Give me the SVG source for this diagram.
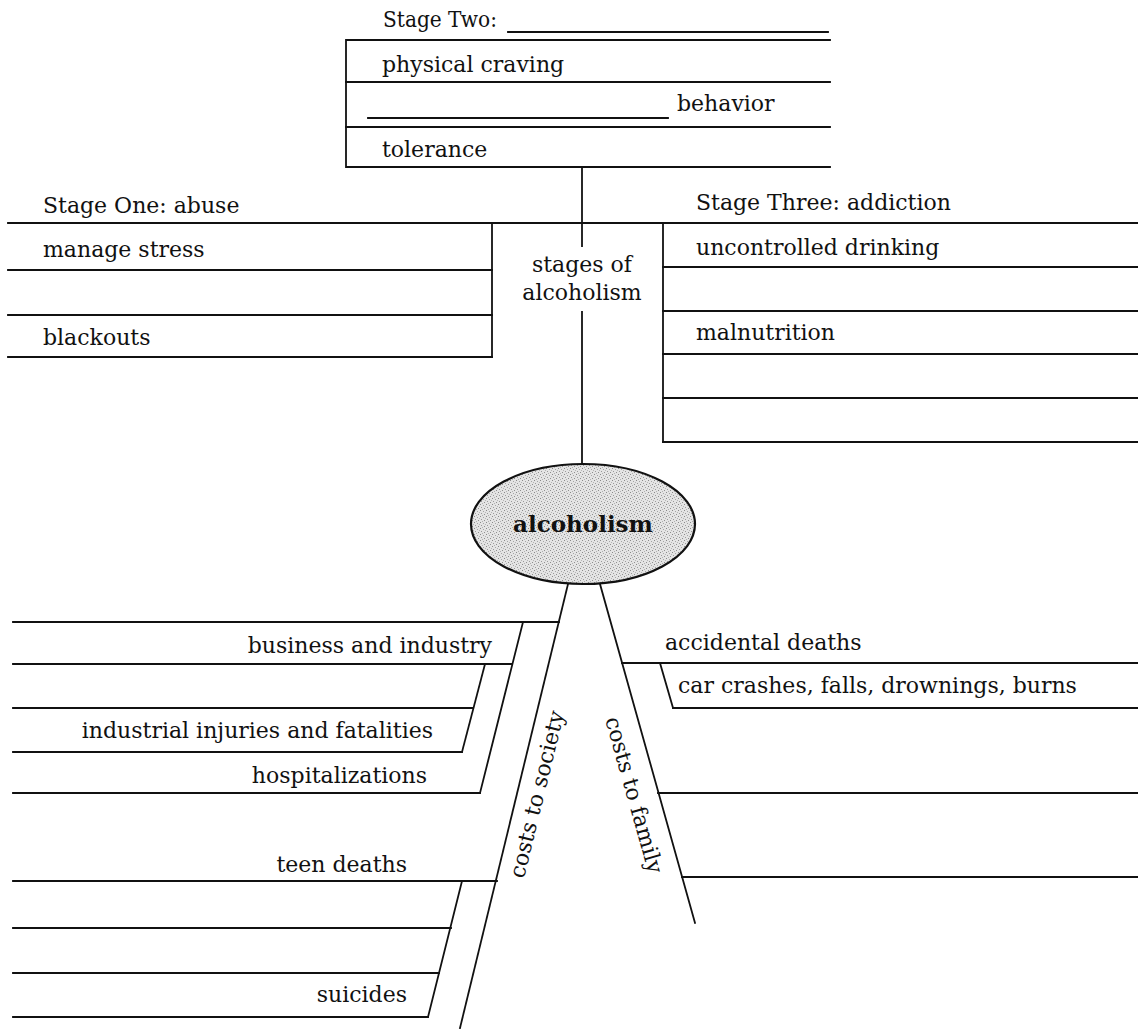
<svg xmlns="http://www.w3.org/2000/svg" width="1138" height="1029" viewBox="0 0 1138 1029">
<style>
  .ln{stroke:#111;stroke-width:1.8;fill:none;stroke-linecap:square}
  text{font-family:"DejaVu Serif","Liberation Serif",serif;font-size:22px;fill:#111}
  .r{text-anchor:end}
  .c{text-anchor:middle}
  .b{font-weight:bold;font-size:23px}
</style>
<defs>
  <pattern id="stip" width="6" height="6" patternUnits="userSpaceOnUse">
    <rect width="6" height="6" fill="#e4e4e4"/>
    <rect x="0" y="0" width="1" height="1" fill="#8a8a8a"/>
    <rect x="3" y="1" width="1" height="1" fill="#a5a5a5"/>
    <rect x="1" y="3" width="1" height="1" fill="#9a9a9a"/>
    <rect x="4" y="4" width="1" height="1" fill="#8f8f8f"/>
    <rect x="5" y="2" width="1" height="1" fill="#b5b5b5"/>
    <rect x="2" y="5" width="1" height="1" fill="#b0b0b0"/>
  </pattern>
</defs>
<rect width="1138" height="1029" fill="#fff"/>

<g id="connectors">
  <line class="ln" x1="582" y1="167" x2="582" y2="246"/>
  <line class="ln" x1="582" y1="312" x2="582" y2="464"/>
  <line class="ln" x1="8" y1="223" x2="1138" y2="223"/>
  <line class="ln" x1="568" y1="584" x2="460" y2="1028"/>
  <line class="ln" x1="600" y1="584" x2="695" y2="923"/>
</g>

<g id="stage-two">
  <text x="383" y="27" textLength="114" lengthAdjust="spacingAndGlyphs">Stage Two:</text>
  <line class="ln" x1="508" y1="32" x2="828" y2="32"/>
  <polyline class="ln" points="830,40 346,40 346,167 830,167"/>
  <line class="ln" x1="346" y1="82" x2="830" y2="82"/>
  <line class="ln" x1="346" y1="127" x2="830" y2="127"/>
  <text x="382" y="72">physical craving</text>
  <line class="ln" x1="368" y1="118" x2="668" y2="118"/>
  <text x="677" y="111">behavior</text>
  <text x="382" y="157">tolerance</text>
</g>

<g id="stages-label">
  <text class="c" x="582" y="272">stages of</text>
  <text class="c" x="582" y="300">alcoholism</text>
</g>

<g id="stage-one">
  <text x="43" y="213">Stage One: abuse</text>
  <line class="ln" x1="492" y1="223" x2="492" y2="357"/>
  <line class="ln" x1="8" y1="270" x2="492" y2="270"/>
  <line class="ln" x1="8" y1="315" x2="492" y2="315"/>
  <line class="ln" x1="8" y1="357" x2="492" y2="357"/>
  <text x="43" y="257">manage stress</text>
  <text x="43" y="345">blackouts</text>
</g>

<g id="stage-three">
  <text x="696" y="210">Stage Three: addiction</text>
  <line class="ln" x1="663" y1="223" x2="663" y2="442"/>
  <line class="ln" x1="663" y1="267" x2="1138" y2="267"/>
  <line class="ln" x1="663" y1="311" x2="1138" y2="311"/>
  <line class="ln" x1="663" y1="354" x2="1138" y2="354"/>
  <line class="ln" x1="663" y1="398" x2="1138" y2="398"/>
  <line class="ln" x1="663" y1="442" x2="1138" y2="442"/>
  <text x="696" y="255">uncontrolled drinking</text>
  <text x="696" y="340">malnutrition</text>
</g>

<g id="alcoholism">
  <ellipse cx="583" cy="524" rx="112" ry="60" fill="url(#stip)" stroke="#111" stroke-width="2.2"/>
  <text class="c b" x="583" y="532">alcoholism</text>
</g>

<g id="costs-to-society">
  <text class="c" transform="translate(544,796) rotate(-76.3)">costs to society</text>
  <line class="ln" x1="13" y1="622" x2="559" y2="622"/>
  <line class="ln" x1="523" y1="622" x2="480" y2="793"/>
  <line class="ln" x1="13" y1="664" x2="512" y2="664"/>
  <line class="ln" x1="485" y1="664" x2="462" y2="752"/>
  <line class="ln" x1="13" y1="708" x2="473" y2="708"/>
  <line class="ln" x1="13" y1="752" x2="462" y2="752"/>
  <line class="ln" x1="13" y1="793" x2="480" y2="793"/>
  <text class="r" x="492" y="653">business and industry</text>
  <text class="r" x="433" y="738">industrial injuries and fatalities</text>
  <text class="r" x="427" y="783">hospitalizations</text>
  <line class="ln" x1="13" y1="881" x2="497" y2="881"/>
  <line class="ln" x1="462" y1="881" x2="428" y2="1017"/>
  <line class="ln" x1="13" y1="928" x2="451" y2="928"/>
  <line class="ln" x1="13" y1="973" x2="439" y2="973"/>
  <line class="ln" x1="13" y1="1017" x2="428" y2="1017"/>
  <text class="r" x="407" y="872">teen deaths</text>
  <text class="r" x="407" y="1002">suicides</text>
</g>

<g id="costs-to-family">
  <text class="c" transform="translate(627,797) rotate(74.3)">costs to family</text>
  <line class="ln" x1="622" y1="663" x2="1138" y2="663"/>
  <line class="ln" x1="660" y1="663" x2="673" y2="708"/>
  <line class="ln" x1="673" y1="708" x2="1138" y2="708"/>
  <line class="ln" x1="658" y1="793" x2="1138" y2="793"/>
  <line class="ln" x1="682" y1="877" x2="1138" y2="877"/>
  <text x="665" y="650">accidental deaths</text>
  <text x="678" y="693">car crashes, falls, drownings, burns</text>
</g>
</svg>
